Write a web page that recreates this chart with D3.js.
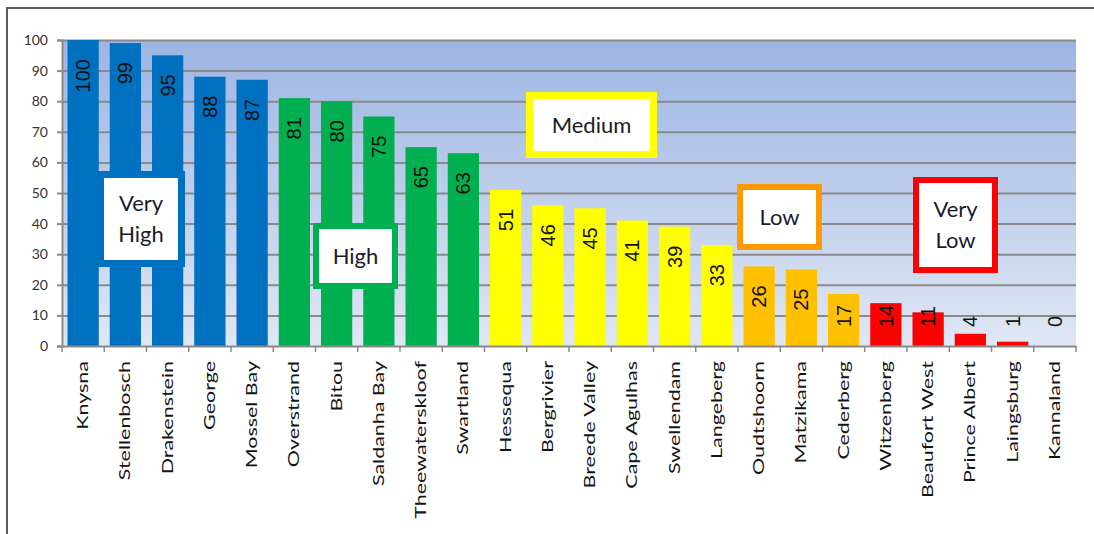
<!DOCTYPE html>
<html>
<head>
<meta charset="utf-8">
<script src="https://cdn.jsdelivr.net/npm/d3@7"></script>
<style>
  html, body { margin: 0; padding: 0; background: #ffffff; }
  svg { display: block; }
</style>
</head>
<body>
<svg id="chart" width="1094" height="534"></svg>
<script>
// ---------------- data ----------------
const categories = ["Knysna","Stellenbosch","Drakenstein","George","Mossel Bay","Overstrand","Bitou","Saldanha Bay","Theewaterskloof","Swartland","Hessequa","Bergrivier","Breede Valley","Cape Agulhas","Swellendam","Langeberg","Oudtshoorn","Matzikama","Cederberg","Witzenberg","Beaufort West","Prince Albert","Laingsburg","Kannaland"];
const values = [100,99,95,88,87,81,80,75,65,63,51,46,45,41,39,33,26,25,17,14,11,4,1.4,0];
const levels = ["Very High","Very High","Very High","Very High","Very High","High","High","High","High","High","Medium","Medium","Medium","Medium","Medium","Medium","Low","Low","Low","Very Low","Very Low","Very Low","Very Low","Very Low"];
const levelNames = ["Very High","High","Medium","Low","Very Low"];
const levelBarColors = ["#0070C0","#00B050","#FFFF00","#FFC000","#FF0000"];
const levelBoxColors = ["#0070C0","#00B050","#FFFF00","#FF9900","#FF0000"];
const yTicks = [0,10,20,30,40,50,60,70,80,90,100];

// ---------------- layout ----------------
const svg = d3.select("#chart");
const plot = { left: 62, right: 1076, top: 40, bottom: 346 };

const x = d3.scaleBand().domain(categories).range([plot.left, plot.right]).paddingInner(0.26).paddingOuter(0.13);
const y = d3.scaleLinear().domain([0, 100]).range([plot.bottom, plot.top]);
const barColor = d3.scaleOrdinal().domain(levelNames).range(levelBarColors);
const boxColor = d3.scaleOrdinal().domain(levelNames).range(levelBoxColors);

// frame
svg.append("path").attr("d", "M7,534 V8 H1094").attr("fill", "none").attr("stroke", "#5a5a5a").attr("stroke-width", 2);

// background gradient
const defs = svg.append("defs");
const grad = defs.append("linearGradient").attr("id", "bg").attr("x1", 0).attr("y1", 0).attr("x2", 0).attr("y2", 1);
grad.append("stop").attr("offset", "0%").attr("stop-color", "#9CB5E3");
grad.append("stop").attr("offset", "100%").attr("stop-color", "#E0E7F4");
svg.append("rect").attr("x", plot.left).attr("y", plot.top).attr("width", plot.right - plot.left).attr("height", plot.bottom - plot.top).attr("fill", "url(#bg)");

// gridlines + y axis
const yAxis = d3.axisLeft(y).tickValues(yTicks).tickSize(5).tickPadding(9).tickFormat(d3.format("d"));
const gy = svg.append("g").attr("transform", `translate(${plot.left},0)`).call(yAxis);
gy.select(".domain").attr("stroke", "#8a8a8a").attr("stroke-width", 2);
gy.selectAll(".tick line").attr("stroke", "#8a8a8a").attr("stroke-width", 2);
gy.selectAll(".tick text").attr("font-family", "Lato, sans-serif").attr("font-size", 14).attr("fill", "#333333");
gy.selectAll(".tick").filter(d => d > 0).append("line")
  .attr("x1", 0).attr("x2", plot.right - plot.left).attr("stroke", "#8a8a8a").attr("stroke-width", 2);

// bars
svg.append("g").selectAll("rect").data(values).join("rect")
  .attr("x", (d, i) => x(categories[i]))
  .attr("y", d => y(d))
  .attr("width", x.bandwidth())
  .attr("height", d => y(0) - y(d))
  .attr("fill", (d, i) => barColor(levels[i]));

// x axis
const xAxis = d3.axisBottom(x).tickSize(0).tickFormat("");
const gx = svg.append("g").attr("transform", `translate(0,${plot.bottom})`).call(xAxis);
gx.select(".domain").attr("stroke", "#8a8a8a").attr("stroke-width", 2);
const step = x.step();
const boundaries = d3.range(categories.length + 1).map(i => plot.left + i * step);
gx.selectAll("line.bt").data(boundaries).join("line").attr("class", "bt")
  .attr("x1", d => d).attr("x2", d => d).attr("y1", 0).attr("y2", 6)
  .attr("stroke", "#8a8a8a").attr("stroke-width", 1.5);

// category labels (vertical)
svg.append("g").selectAll("text").data(categories).join("text")
  .attr("transform", d => `translate(${x(d) + x.bandwidth() / 2},361) rotate(-90) scale(1.48,1)`)
  .attr("text-anchor", "end")
  .attr("dy", "0.35em")
  .attr("font-family", "Lato, sans-serif")
  .attr("font-size", 14.5)
  .attr("fill", "#141414")
  .text(d => d);

// value labels (vertical, inside end, kept above axis)
const fmt = d3.format(".0f");
const vl = svg.append("g").selectAll("text").data(values).join("text")
  .attr("text-anchor", "end")
  .attr("dy", "0.35em")
  .attr("font-family", "'Liberation Sans', Arial, sans-serif")
  .attr("font-size", 20)
  .attr("fill", "#111111")
  .text(d => fmt(d));
vl.each(function(d, i) {
  const len = this.getComputedTextLength();
  const endY = Math.min(y(d) + 19, y(0) - 19 - len);
  d3.select(this).attr("transform", `translate(${x(categories[i]) + x.bandwidth() / 2},${endY}) rotate(-90)`);
});

// level annotation boxes
const boxLayout = [
  { level: "Very High", lines: ["Very", "High"], x0: 97, x1: 185, y0: 171, y1: 267, sw: 7 },
  { level: "High", lines: ["High"], x0: 313, x1: 398, y0: 223, y1: 289, sw: 6 },
  { level: "Medium", lines: ["Medium"], x0: 526, x1: 657, y0: 92, y1: 158, sw: 7 },
  { level: "Low", lines: ["Low"], x0: 737, x1: 822, y0: 184, y1: 250, sw: 6 },
  { level: "Very Low", lines: ["Very", "Low"], x0: 913, x1: 998, y0: 177, y1: 273, sw: 6 }
];
const gb = svg.append("g").selectAll("g").data(boxLayout).join("g");
gb.append("rect")
  .attr("x", d => d.x0 + d.sw / 2).attr("y", d => d.y0 + d.sw / 2)
  .attr("width", d => d.x1 - d.x0 - d.sw).attr("height", d => d.y1 - d.y0 - d.sw)
  .attr("fill", "#ffffff").attr("stroke", d => boxColor(d.level)).attr("stroke-width", d => d.sw);
gb.each(function(d) {
  const cx = (d.x0 + d.x1) / 2, cy = (d.y0 + d.y1) / 2;
  const fs = 22, lh = 31;
  const n = d.lines.length;
  d.lines.forEach((t, k) => {
    const base = cy + 0.36 * fs + (k - (n - 1) / 2) * lh;
    d3.select(this).append("text")
      .attr("x", cx).attr("y", base)
      .attr("text-anchor", "middle")
      .attr("font-family", "Lato, sans-serif")
      .attr("font-size", fs)
      .attr("fill", "#1a1a2a")
      .text(t);
  });
});
</script>
</body>
</html>
